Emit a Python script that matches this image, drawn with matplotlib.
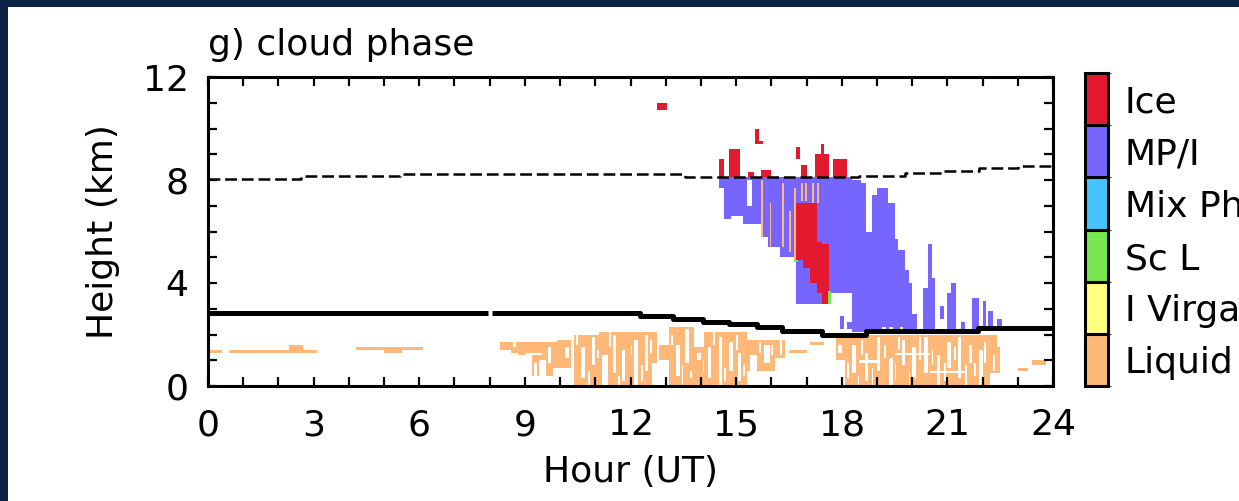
import numpy as np
import matplotlib
matplotlib.use("Agg")
import matplotlib.pyplot as plt
from matplotlib.colors import ListedColormap, BoundaryNorm
from matplotlib.patches import Rectangle

# ---------------- data ----------------
class_labels = ["Liquid", "I Virga", "Sc L", "Mix Ph", "MP/I", "Ice"]
class_colors = ["#FFB877", "#FFFF80", "#78E650", "#44C4FA", "#7765FF", "#E3192F"]

# spans: (hour_start, hour_end, km_bottom, km_top)
liquid_spans = [
    (0.05, 0.4, 1.3, 1.45), (0.6, 3.1, 1.35, 1.45), (1.2, 2.8, 1.27, 1.4),
    (2.3, 2.7, 1.45, 1.6), (4.2, 6.1, 1.42, 1.52), (5.0, 5.5, 1.32, 1.45),
    (8.3, 9.0, 1.3, 1.75), (8.8, 9.9, 0.4, 1.7), (9.9, 10.3, 0.7, 1.8),
    (10.4, 11.1, 0.0, 2.05), (11.1, 11.9, 0.0, 2.1), (11.9, 12.75, 0.0, 2.15),
    (12.8, 13.1, 1.0, 1.6), (13.1, 13.8, 0.0, 2.35), (13.8, 14.1, 0.0, 1.5),
    (14.1, 15.3, 0.0, 2.15), (15.3, 16.4, 0.6, 1.85), (16.5, 17.0, 1.3, 1.45),
    (17.1, 17.5, 1.6, 1.75), (17.85, 22.5, 0.0, 2.0),
    (23.0, 23.3, 0.6, 0.75), (23.4, 23.8, 0.85, 1.0),
    # thin liquid streaks inside the mixed-phase region
    (15.72, 15.77, 5.8, 8.0), (15.95, 16.0, 5.4, 7.1), (16.3, 16.35, 5.4, 7.9),
    (16.48, 16.53, 5.2, 6.8), (16.65, 16.7, 4.9, 7.7), (16.85, 16.9, 7.2, 7.9),
    (16.97, 17.02, 7.2, 7.9), (17.15, 17.2, 7.1, 7.9), (17.28, 17.33, 7.1, 7.9),
]
virga_spans = [(19.15, 19.25, 2.2, 2.35), (19.35, 19.45, 2.2, 2.35), (19.65, 19.75, 2.2, 2.3)]
scl_spans = [(16.65, 16.75, 4.8, 4.95), (17.6, 17.7, 3.2, 3.7)]
mix_spans = []
mpi_spans = [
    (14.5, 14.65, 7.7, 8.1), (14.65, 14.85, 6.5, 8.1), (14.85, 15.2, 6.6, 8.1),
    (15.2, 15.7, 6.3, 8.1), (15.7, 15.9, 5.8, 8.1), (15.9, 16.25, 5.4, 8.1),
    (16.25, 16.7, 5.0, 8.1), (16.7, 17.65, 3.2, 8.1), (17.65, 18.3, 3.6, 8.1),
    (18.3, 18.55, 2.15, 8.05), (18.55, 18.7, 2.15, 7.9), (18.7, 18.85, 2.15, 6.0),
    (18.85, 19.0, 2.15, 7.45), (19.0, 19.3, 2.15, 7.7), (19.3, 19.5, 2.15, 7.1),
    (19.5, 19.6, 2.15, 5.7), (19.6, 19.8, 2.15, 5.3), (19.8, 19.9, 2.15, 4.5),
    (19.9, 20.0, 2.15, 4.0), (20.0, 20.15, 2.15, 2.8), (20.3, 20.45, 2.2, 3.8),
    (20.45, 20.55, 2.2, 5.5), (20.55, 20.65, 2.2, 4.2), (20.8, 20.9, 2.6, 3.1),
    (21.0, 21.1, 2.2, 3.6), (21.1, 21.25, 2.2, 4.0), (21.4, 21.5, 2.2, 2.5),
    (21.7, 21.9, 2.2, 3.45), (22.0, 22.1, 2.2, 3.3), (22.15, 22.3, 2.2, 2.95),
    (22.4, 22.55, 2.2, 2.6), (17.95, 18.05, 2.2, 2.7), (18.15, 18.3, 2.2, 2.5),
]
ice_spans = [
    (12.75, 13.05, 10.75, 11.0), (14.5, 14.65, 8.1, 8.8), (14.8, 15.1, 8.1, 9.25),
    (15.35, 15.5, 8.1, 8.35), (15.7, 16.0, 8.1, 8.45), (15.55, 15.65, 9.4, 10.0),
    (15.55, 15.75, 9.4, 9.5), (16.7, 16.8, 8.8, 9.35), (16.85, 17.0, 8.1, 8.6),
    (17.25, 17.65, 8.1, 9.05), (17.4, 17.5, 9.05, 9.4), (17.75, 18.15, 8.1, 8.8),
    (16.7, 16.9, 4.9, 7.15), (16.9, 17.1, 4.6, 7.15), (17.1, 17.3, 4.0, 7.1),
    (17.3, 17.45, 3.6, 5.6), (17.45, 17.65, 3.2, 5.5),
]
# clear gaps between cloud elements
clear_spans = [
    (8.8, 9.2, 0.0, 1.2), (9.4, 9.6, 0.3, 1.0), (9.0, 9.5, 1.2, 1.3),
    (10.0, 10.4, 0.0, 0.7), (10.6, 10.7, 0.3, 1.5), (10.9, 11.0, 0.8, 1.9),
    (11.2, 11.35, 0.0, 1.2), (11.5, 11.6, 0.5, 2.0), (11.75, 11.85, 0.2, 1.4),
    (12.1, 12.2, 0.0, 1.8), (12.4, 12.5, 0.6, 2.0), (12.6, 12.75, 0.0, 0.9),
    (13.3, 13.4, 0.4, 1.6), (13.55, 13.65, 0.9, 2.2), (14.2, 14.3, 0.3, 1.5),
    (14.5, 14.6, 0.0, 1.9), (14.8, 14.9, 0.6, 1.7), (15.05, 15.15, 0.2, 1.3),
    (15.4, 15.6, 0.6, 1.2), (15.8, 15.95, 0.9, 1.6), (16.1, 16.4, 0.6, 1.1),
    (17.85, 18.1, 0.0, 1.0), (18.3, 18.4, 0.5, 1.6), (18.65, 18.75, 0.2, 1.3),
    (19.0, 19.1, 0.6, 1.9), (19.35, 19.45, 0.0, 1.1), (19.7, 19.8, 0.8, 1.8),
    (20.0, 20.1, 0.3, 1.5), (20.35, 20.45, 0.5, 1.9), (20.7, 20.8, 0.0, 1.2),
    (21.0, 21.1, 0.7, 1.7), (21.3, 21.4, 0.3, 1.9), (21.6, 21.7, 0.9, 1.6),
    (21.9, 22.0, 0.0, 1.4), (22.2, 22.5, 0.0, 0.5), (18.5, 19.0, 0.9, 1.0),
    (19.5, 20.5, 1.2, 1.3), (20.5, 21.5, 0.5, 0.6), (15.3, 15.45, 7.0, 8.0),
    # small specks
    (8.3, 8.6, 1.3, 1.4), (8.65, 8.75, 1.5, 1.7), (9.25, 9.35, 0.4, 0.9),
    (9.65, 9.75, 0.9, 1.5), (9.8, 9.9, 0.4, 0.7), (10.15, 10.25, 1.1, 1.5),
    (10.45, 10.5, 1.6, 2.0), (10.8, 10.85, 0.0, 0.6), (11.05, 11.1, 1.1, 1.4),
    (11.4, 11.45, 1.5, 2.1), (11.65, 11.7, 0.0, 0.4), (12.0, 12.05, 1.2, 1.6),
    (12.3, 12.35, 0.2, 0.8), (12.55, 12.6, 1.3, 1.8), (13.15, 13.2, 1.6, 2.0),
    (13.45, 13.5, 0.0, 0.8), (13.7, 13.75, 0.3, 0.6), (13.9, 14.0, 1.0, 1.3),
    (14.05, 14.1, 0.5, 1.0), (14.35, 14.4, 1.6, 2.1), (14.65, 14.7, 0.2, 0.7),
    (15.0, 15.05, 1.4, 2.0), (15.2, 15.25, 0.4, 0.8), (15.65, 15.7, 1.3, 1.7),
    (16.0, 16.05, 1.2, 1.6), (16.25, 16.3, 1.2, 1.8),
    (17.9, 18.0, 1.3, 1.6), (18.15, 18.2, 0.3, 0.9), (18.45, 18.5, 0.0, 0.4),
    (18.55, 18.6, 1.2, 1.8), (18.85, 18.9, 0.0, 0.7), (19.2, 19.25, 1.1, 1.6),
    (19.5, 19.55, 0.2, 0.9), (19.6, 19.65, 1.4, 1.9), (19.9, 19.95, 0.0, 0.6),
    (20.2, 20.25, 1.0, 1.9), (20.55, 20.6, 0.8, 1.4), (20.9, 20.95, 0.2, 0.9),
    (21.2, 21.25, 1.0, 1.5), (21.5, 21.55, 0.0, 0.8), (21.75, 21.8, 0.4, 0.9),
    (22.05, 22.1, 0.9, 1.7), (22.3, 22.35, 0.6, 1.2), (22.4, 22.5, 1.5, 2.0),
]

freeze_hour = [0, 7.95, 8.07, 12.27, 13.2, 14.05, 14.8, 15.6, 16.3, 17.45, 18.68, 21.87, 24]
freeze_km = [2.85, np.nan, 2.85, 2.73, 2.62, 2.5, 2.4, 2.28, 2.15, 2.0, 2.13, 2.25, 2.25]
trop_hour = [0, 2.65, 5.45, 13.55, 18.5, 19.8, 20.85, 21.9, 23.0, 24]
trop_km = [8.03, 8.15, 8.23, 8.1, 8.15, 8.27, 8.35, 8.47, 8.55, 8.55]

x_ticks = [0, 3, 6, 9, 12, 15, 18, 21, 24]
y_ticks = [0, 4, 8, 12]

# ---------------- build class grid ----------------
t_edges = np.linspace(0, 24, 481)
z_edges = np.linspace(0, 12, 121)
tc = 0.5 * (t_edges[:-1] + t_edges[1:])
zc = 0.5 * (z_edges[:-1] + z_edges[1:])
grid = np.zeros((zc.size, tc.size))

def paint(spans, code):
    for t0, t1, z0, z1 in spans:
        m = np.outer((zc >= z0) & (zc < z1), (tc >= t0) & (tc < t1))
        grid[m] = code

paint(mpi_spans, 5)
paint(mix_spans, 4)
paint(ice_spans, 6)
paint(liquid_spans, 1)
paint(clear_spans, 0)
paint(scl_spans, 3)
paint(virga_spans, 2)
data = np.ma.masked_equal(grid, 0)

# ---------------- figure ----------------
plt.rcParams['font.family'] = ['DejaVu Sans']
plt.rcParams['lines.scale_dashes'] = False
FS = 26
fig = plt.figure(figsize=(12.39, 5.01), dpi=100, facecolor="#0B2244")
fig.patches.append(Rectangle((8 / 1239, 0), 1, 494 / 501, transform=fig.transFigure,
                             facecolor="white", edgecolor="none", zorder=-10))

ax = fig.add_axes([208 / 1239, 115 / 501, 845 / 1239, 309 / 501])
cmap = ListedColormap(class_colors)
norm = BoundaryNorm(np.arange(0.5, 7.5, 1), cmap.N)
mesh = ax.pcolormesh(t_edges, z_edges, data, cmap=cmap, norm=norm, zorder=1)

ax.plot(freeze_hour, freeze_km, color="black", lw=3.6, drawstyle="steps-post", zorder=3,
        solid_capstyle="butt")
ax.plot(trop_hour, trop_km, color="black", lw=1.8, drawstyle="steps-post", zorder=3,
        dashes=(8.5, 3.5))

ax.set_xlim(0, 24)
ax.set_ylim(0, 12)
ax.set_xticks(x_ticks)
ax.set_yticks(y_ticks)
ax.set_xticks(np.arange(0, 25, 1), minor=True)
ax.set_yticks(np.arange(0, 13, 1), minor=True)
ax.tick_params(which="both", direction="in", top=True, right=True, length=6.5, width=1.6,
               labelsize=FS, color="black")
ax.tick_params(axis="x", which="major", pad=16)
ax.tick_params(axis="y", which="major", pad=14)
for s in ax.spines.values():
    s.set_linewidth(2.2)

ax.set_xlabel("Hour (UT)", fontsize=FS, labelpad=9)
ax.set_ylabel("Height (km)", fontsize=FS, labelpad=16)
ax.text(0.0, 1.05, "g) cloud phase", transform=ax.transAxes, fontsize=FS,
        ha="left", va="bottom")

cax = fig.add_axes([1085 / 1239, 115 / 501, 23 / 1239, 313 / 501])
cb = fig.colorbar(mesh, cax=cax, ticks=np.arange(1, 7), drawedges=True)
cb.set_ticklabels(class_labels)
cb.ax.tick_params(length=0, labelsize=FS, pad=12)
cb.outline.set_linewidth(2.2)
cb.dividers.set_linewidth(2.2)

fig.savefig("out.png", dpi=100, facecolor=fig.get_facecolor())
